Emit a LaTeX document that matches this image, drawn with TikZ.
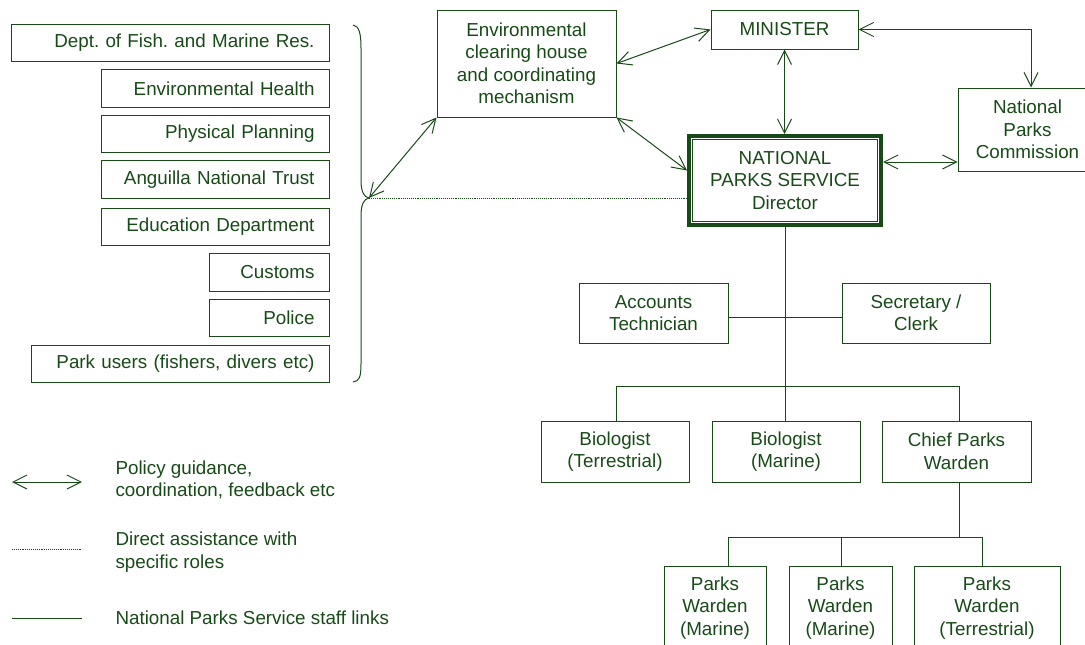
\documentclass[tikz,border=0pt]{standalone}
\usepackage{fontspec}
\setmainfont{Liberation Sans}
\usetikzlibrary{arrows.meta,calc}
\definecolor{pg}{RGB}{24,74,24}
\frenchspacing
\begin{document}
\begin{tikzpicture}[x=1pt,y=-1pt,
  every node/.style={text=pg, font=\fontsize{18.8}{22.5}\selectfont},
  box/.style={draw=pg, line width=1pt, inner sep=0pt, align=center},
  lbox/.style={draw=pg, line width=1pt, inner xsep=15pt, inner ysep=0pt,
               align=right, anchor=east, minimum height=37.5pt},
  pol/.style={draw=pg, line width=1pt,
              {Straight Barb[length=14pt,width=14pt]}-{Straight Barb[length=14pt,width=14pt]}},
  aid/.style={draw=pg, line width=0.9pt, densely dotted},
  staff/.style={draw=pg, line width=1pt},
  lgtext/.style={anchor=west, align=left}]
\useasboundingbox (0,0) rectangle (1085,645);
\clip (0,0) rectangle (1085,645);

% stakeholder agencies
\node[lbox, text width=288pt] (fish) at (330,43)  {Dept. of Fish. and Marine Res.};
\node[lbox, text width=198pt] (health) at (330,88.5) {Environmental Health};
\node[lbox, text width=198pt] (plan) at (330,134) {Physical Planning};
\node[lbox, text width=198pt] (trust) at (330,179.5) {Anguilla National Trust};
\node[lbox, text width=198pt] (edu) at (330,227) {Education Department};
\node[lbox, text width=90pt] (cust) at (330,272.5) {Customs};
\node[lbox, text width=90pt] (police) at (330,318) {Police};
\node[lbox, text width=268pt] (users) at (330,364) {Park users (fishers, divers etc)};

% brace grouping the agencies
\draw[pg, line width=1pt] (353,25) .. controls (359,26) and (361,33) .. (361,48)
  -- (361,180) .. controls (361,192) and (364,197) .. (369,198)
  .. controls (364,199) and (361,204) .. (361,216)
  -- (361,364) .. controls (361,378) and (359,381) .. (353,382);
\coordinate (tip) at (369,198);

% upper management
\node[box, minimum width=179pt, minimum height=107pt] (ech) at (526.5,63.5)
  {Environmental\\clearing house\\and coordinating\\mechanism};
\node[box, minimum width=147pt, minimum height=39pt] (min) at (784.5,29.5) {MINISTER};
\node[box, minimum width=139pt, minimum height=83pt] (npc) at (1027.5,129.5)
  {National\\Parks\\Commission};
\node[draw=pg, line width=4pt, inner sep=0pt, align=center,
      minimum width=192pt, minimum height=89pt] (dir) at (785,180.5)
  {NATIONAL\\PARKS SERVICE\\Director};
\draw[pg, line width=1.5pt] ($(dir.north west)+(5.5,5.5)$) rectangle ($(dir.south east)+(-5.5,-5.5)$);

% staff
\node[box, minimum width=149pt, minimum height=60pt] (acc) at (653.5,313) {Accounts\\Technician};
\node[box, minimum width=148pt, minimum height=60pt] (sec) at (916,313) {Secretary /\\Clerk};
\node[box, minimum width=148pt, minimum height=61pt] (bt) at (615,451.5) {Biologist\\(Terrestrial)};
\node[box, minimum width=148pt, minimum height=61pt] (bm) at (786,451.5) {Biologist\\(Marine)};
\node[box, minimum width=149pt, minimum height=61pt] (chief) at (956.5,451.5) {Chief Parks\\Warden};
\node[box, minimum width=102pt, minimum height=84pt] (pw1) at (715,608) {Parks\\Warden\\(Marine)};
\node[box, minimum width=103pt, minimum height=84pt] (pw2) at (840.5,608) {Parks\\Warden\\(Marine)};
\node[box, minimum width=146pt, minimum height=84pt] (pw3) at (987,608) {Parks\\Warden\\(Terrestrial)};

% policy links
\draw[pol] (tip) -- (ech.south west);
\draw[pol] (ech.east) -- (min.west);
\draw[pol] (ech.south east) -- ($(dir.west)+(0,-10)$);
\draw[pol] (min.south) -- (min.south |- dir.north);
\draw[pol] (min.east) -| ([xshift=3.5pt]npc.north);
\draw[pol] ([yshift=18.5pt]dir.east) -- ([yshift=18.5pt]dir.east -| npc.west);

% direct assistance
\draw[aid] (tip) -- (tip -| dir.west);

% staff links
\coordinate (barL) at (616,386);
\coordinate (barR) at (959,386);
\coordinate (bar2L) at (728,537);
\coordinate (bar2M) at (841,537);
\coordinate (bar2R) at (982,537);
\draw[staff] (dir.south) -- (dir.south |- bm.north);
\draw[staff] ([yshift=-4pt]acc.east) -- ([yshift=-4pt]sec.west);
\draw[staff] (bt.north -| barL) -- (barL) -- (barR) -- (barR |- chief.north);
\draw[staff] (chief.south -| barR) -- (barR |- bar2R);
\draw[staff] (bar2L |- pw1.north) -- (bar2L) -- (bar2R) -- (bar2R |- pw3.north);
\draw[staff] (bar2M) -- (bar2M |- pw2.north);

% legend
\coordinate (la1) at (12,482);
\coordinate (la2) at (82,482);
\coordinate (lb1) at (12,549);
\coordinate (lb2) at (82,549);
\coordinate (lc1) at (12,618);
\coordinate (lc2) at (82,618);
\draw[pol] (la1) -- (la2);
\draw[aid] (lb1) -- (lb2);
\draw[staff] (lc1) -- (lc2);
\node[lgtext] (lta) at (112,480) {Policy guidance,\\coordination, feedback etc};
\node[lgtext] (ltb) at (112,552) {Direct assistance with\\specific roles};
\node[lgtext] (ltc) at (112,618) {National Parks Service staff links};
\end{tikzpicture}
\end{document}
